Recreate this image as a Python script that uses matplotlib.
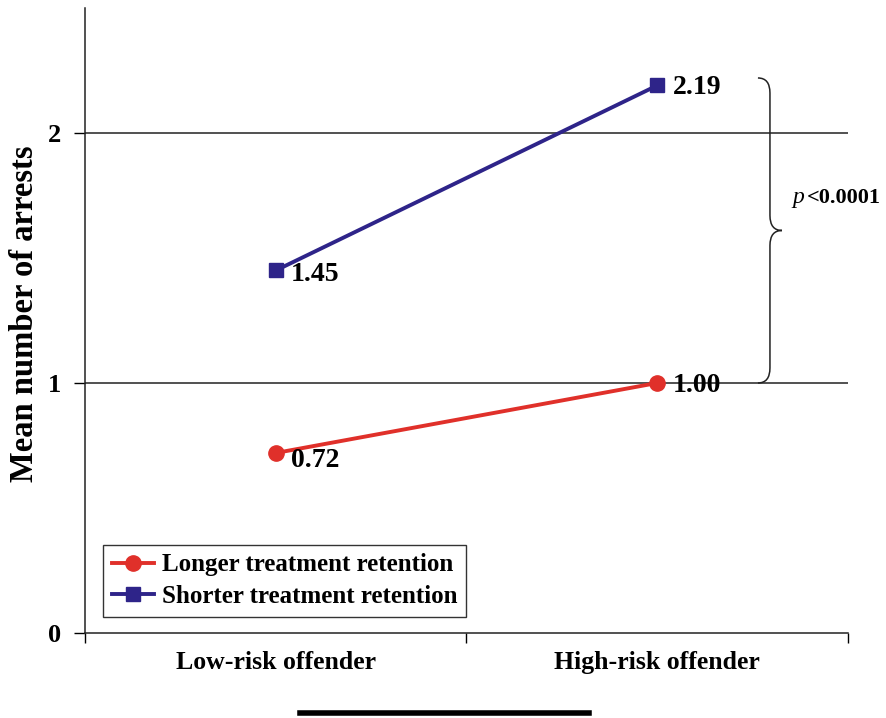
import matplotlib
matplotlib.use("Agg")
import matplotlib.pyplot as plt
from matplotlib.path import Path
from matplotlib.patches import PathPatch
from matplotlib.lines import Line2D

plt.rcParams['font.family'] = ['Liberation Serif', 'DejaVu Serif']

groups = ["Low-risk offender", "High-risk offender"]
longer = [0.72, 1.00]
shorter = [1.45, 2.19]
series_names = ["Longer treatment retention", "Shorter treatment retention"]
p_text = "<0.0001"

red = "#E0302A"
navy = "#2E2489"

fig = plt.figure(figsize=(8.87, 7.18), dpi=100)
ax = fig.add_axes([0.0958, 0.1184, 0.8602, 0.8705])

x = [0.5, 1.5]
ax.plot(x, longer, color=red, lw=2.8, marker="o", ms=11, label=series_names[0], zorder=3)
ax.plot(x, shorter, color=navy, lw=2.8, marker="s", ms=10, label=series_names[1], zorder=3)

# value labels
for xi, v in zip(x, longer):
    dy = -0.03 if xi < 1 else -0.01
    ax.text(xi + 0.04, v + dy, f"{v:.2f}", fontsize=20, fontweight="bold", va="center", ha="left")
for xi, v in zip(x, shorter):
    dy = -0.015 if xi < 1 else -0.01
    ax.text(xi + 0.04, v + dy, f"{v:.2f}", fontsize=20, fontweight="bold", va="center", ha="left")

ax.set_xlim(0, 2)
ax.set_ylim(0, 2.5)
ax.set_yticks([0, 1, 2])
ax.set_yticklabels(["0", "1", "2"], fontsize=19, fontweight="bold")
ax.set_xticks([0, 1, 2])
ax.set_xticklabels([])
ax.set_xticks(x, minor=True)
ax.set_xticklabels(groups, minor=True, fontsize=18.5, fontweight="bold")
ax.tick_params(axis="x", which="minor", length=0, pad=13)
ax.tick_params(axis="x", which="major", length=7, width=1, direction="out")
ax.tick_params(axis="y", length=8, width=1, direction="out", pad=9)
ax.set_ylabel("Mean number of arrests", fontsize=23.5, fontweight="bold")
ax.yaxis.set_label_coords(-0.059, 0.51)

for s in ["top", "right"]:
    ax.spines[s].set_visible(False)
for s in ["left", "bottom"]:
    ax.spines[s].set_color("#222222")
    ax.spines[s].set_linewidth(1.1)

for gy in [1, 2]:
    ax.axhline(gy, color="#222222", lw=1.1, zorder=1)

leg = ax.legend(loc="lower left", bbox_to_anchor=(0.0236, 0.0256), borderaxespad=0,
                fancybox=False, framealpha=1, edgecolor="#333333",
                prop={"size": 18, "weight": "bold"}, handlelength=1.7,
                handletextpad=0.3, borderpad=0.35, labelspacing=0.35)
leg.get_frame().set_linewidth(1.0)

# brace on the right
xb0, xb1, xb2 = 1.764, 1.7955, 1.827
yt, yb = 2.22, 1.0
ym = (yt + yb) / 2
verts = [
    (xb0, yt), (xb1, yt), (xb1, yt - 0.06),
    (xb1, ym + 0.06),
    (xb1, ym), (xb2, ym),
    (xb1, ym), (xb1, ym - 0.06),
    (xb1, yb + 0.06),
    (xb1, yb), (xb0, yb),
]
codes = [Path.MOVETO, Path.CURVE3, Path.CURVE3,
         Path.LINETO,
         Path.CURVE3, Path.CURVE3,
         Path.CURVE3, Path.CURVE3,
         Path.LINETO,
         Path.CURVE3, Path.CURVE3]
ax.add_patch(PathPatch(Path(verts, codes), fill=False, lw=1.1, color="#222222", clip_on=False))

ax.text(1.853, 1.74, "p", fontsize=17, fontstyle="italic", va="center", ha="left", clip_on=False)
ax.text(1.893, 1.74, p_text, fontsize=16, fontweight="bold", va="center", ha="left", clip_on=False)

# black bar below the chart
fig.add_artist(Line2D([0.338, 0.664], [0.007, 0.007], color="black", lw=4, transform=fig.transFigure))

fig.savefig("out.png", dpi=100)
